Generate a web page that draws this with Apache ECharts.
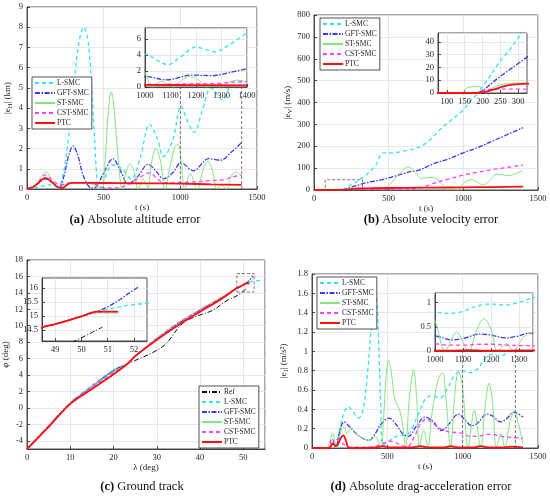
<!DOCTYPE html>
<html>
<head>
<meta charset="utf-8">
<title>Tracking errors</title>
<script src="https://cdn.jsdelivr.net/npm/echarts@6/dist/echarts.min.js"></script>
<style>
  * { margin: 0; padding: 0; }
  #main { width: 550px; height: 500px; }
</style>
</head>
<body>
<div id="main"></div>
<script>
// ---------- data ----------
var ctrlNames = ['L-SMC', 'GFT-SMC', 'ST-SMC', 'CST-SMC', 'PTC'];

// (a) altitude error |e_H| (km) vs t (s)
var aL = [[0,0],[50,0.05],[100,0.15],[150,0.2],[200,0.1],[230,0.5],[270,2.5],[310,5.5],[340,7.3],[370,8.0],[400,7.2],[430,4],[455,0.6],[470,0],[500,0.4],[560,1.2],[620,1.0],[680,0.5],[740,1.6],[800,3.2],[850,2.5],[890,1.6],[950,2.4],[1005,4.1],[1050,3.3],[1090,2.8],[1140,3.8],[1200,5.0],[1240,4.7],[1275,4.4],[1330,5.3],[1400,6.8]];
var aG = [[0,0],[60,0.2],[120,0.5],[170,0.3],[210,0.05],[240,0.6],[270,1.6],[300,2.13],[330,1.7],[370,0.6],[420,0.05],[450,0.1],[500,0.8],[560,1.5],[610,0.9],[660,0.25],[720,0.6],[790,1.22],[840,0.9],[890,0.5],[950,0.8],[1005,1.3],[1085,0.9],[1185,1.5],[1260,1.42],[1330,1.8],[1400,2.3]];
var aS = [[0,0],[60,0.2],[100,0.7],[125,0.85],[150,0.6],[190,0.1],[215,0],[240,0.2],[280,0.3],[350,0.3],[420,0.25],[470,0.1],[490,0],[510,1.5],[530,3.8],[550,4.8],[570,3.8],[595,1.5],[620,0],[645,0.8],[672,1.25],[700,0.8],[725,0],[755,0.5],[780,0.2],[790,0],[812,1.3],[840,2.0],[870,1.4],[900,0],[930,1.0],[965,2.1],[985,2.2],[1000,1.8],[1030,0],[1065,0.75],[1110,0],[1150,1.0],[1180,1.38],[1210,0.9],[1240,0],[1270,0.2],[1300,0],[1330,0.6],[1360,0.85],[1385,0.75],[1400,0.6]];
var aC = [[0,0],[60,0.2],[120,0.7],[170,0.4],[220,0.2],[260,0.28],[300,0.32],[400,0.3],[460,0.2],[500,0.05],[560,0.05],[620,0.1],[680,0.3],[740,0.6],[800,0.8],[850,0.5],[900,0.3],[960,0.3],[1000,0.32],[1100,0.35],[1200,0.42],[1280,0.45],[1340,0.6],[1400,0.68]];
var aP = [[0,0],[40,0.1],[80,0.35],[120,0.55],[160,0.35],[200,0.1],[230,0.05],[260,0.2],[290,0.3],[400,0.3],[600,0.29],[800,0.28],[1000,0.27],[1200,0.23],[1400,0.2]];

// (b) velocity error |e_V| (m/s) vs t (s)
var bL = [[0,0],[180,0],[200,5],[250,25],[300,43],[350,70],[390,95],[420,120],[445,160],[460,170],[520,170],[600,178],[700,195],[760,220],[850,280],[920,320],[990,360],[1060,415],[1120,457],[1190,520],[1250,578],[1320,650],[1400,735]];
var bG = [[0,0],[180,0],[200,2],[250,13],[300,23],[350,33],[400,40],[450,46],[500,55],[600,75],[650,85],[700,90],[800,120],[900,142],[1000,170],[1100,195],[1200,225],[1300,255],[1400,285]];
var bS = [[0,0],[140,0],[160,4.5],[190,5],[210,1],[230,4],[260,7],[300,7.8],[400,8],[470,8],[520,35],[580,80],[630,105],[680,80],[720,53],[790,58],[840,40],[880,5],[900,0],[930,5],[960,0],[1000,30],[1050,47],[1090,38],[1130,23],[1180,45],[1220,72],[1260,70],[1300,66],[1350,75],[1400,90]];
var bC = [[0,0],[180,0],[200,1.5],[230,3],[300,3],[400,3.5],[500,4],[600,5],[700,8],[800,30],[900,50],[1000,68],[1100,82],[1200,94],[1300,104],[1400,114]];
var bP = [[0,0],[190,0],[210,1],[240,3.5],[270,6],[300,7],[350,7.5],[400,8],[600,10],[800,11],[1000,12],[1200,13.5],[1400,15]];

// (c) ground track phi (deg) vs lambda (deg)
var cRef = [[0,-5],[5,-2.3],[10,0.5],[15,2.6],[20,4.6],[23.3,5.4],[26,6.0],[30,7.0],[32.3,7.9],[34.6,9.5],[36,10.3],[38,10.9],[40,11.3],[43,11.9],[46,13.0],[49,13.8],[50.8,14.6]];
var cL = [[0,-5],[5,-2.2],[10,0.6],[15,2.7],[20,4.6],[23.3,5.4],[25,6.3],[30,8.5],[35,10.4],[40,11.9],[45,13.4],[48.5,14.6],[49,14.7],[50,14.98],[50.6,15.15],[51,15.23],[52,15.4],[53,15.47],[54.2,15.5]];
var cG = [[0,-5],[5,-2.2],[10,0.6],[15,2.6],[20,4.5],[23.3,5.4],[25,6.3],[30,8.4],[35,10.3],[40,11.9],[45,13.4],[48.5,14.6],[49,14.7],[50,14.98],[50.5,15.12],[51,15.32],[51.5,15.6],[51.8,15.8],[52.2,16.05]];
var cS = [[0,-5],[5,-2.2],[10,0.55],[15,2.6],[20,4.4],[23.3,5.4],[25,6.3],[30,8.5],[35,10.4],[40,12.0],[45,13.5],[48.5,14.6],[49,14.7],[50,14.98],[50.6,15.1],[51.4,15.1]];
var cC = [[0,-5],[5,-2.2],[10,0.55],[15,2.5],[20,4.3],[23.3,5.4],[25,6.3],[30,8.4],[35,10.3],[40,11.9],[45,13.4],[48.5,14.6],[49,14.7],[50,14.98],[50.6,15.13],[51.4,15.14]];
var cP = [[0,-5],[5,-2.3],[10,0.5],[15,2.3],[20,4.1],[23.3,5.4],[25,6.3],[30,8.3],[35,10.1],[40,11.7],[45,13.3],[48.5,14.58],[49,14.7],[50,14.98],[50.6,15.15],[51.4,15.15]];

// (d) drag-acceleration error (m/s^2) vs t (s)
var dL = [[0,0],[100,0],[120,0.03],[140,0.05],[160,0.02],[180,0.15],[200,0.3],[240,0.43],[270,0.38],[310,0.31],[340,0.4],[370,0.8],[400,1.35],[425,1.6],[440,1.2],[455,0.5],[470,0.03],[500,0.06],[560,0.12],[640,0.15],[700,0.33],[750,0.5],[790,0.54],[850,0.52],[900,0.62],[950,0.76],[1000,0.8],[1050,0.78],[1100,0.82],[1150,0.93],[1200,0.97],[1250,0.95],[1350,1.1],[1400,1.15]];
var dG = [[0,0],[110,0],[140,0.05],[160,0.02],[180,0.15],[212,0.27],[250,0.22],[300,0.14],[350,0.09],[380,0.08],[420,0.15],[460,0.25],[510,0.31],[560,0.24],[600,0.15],[640,0.12],[690,0.22],[750,0.32],[800,0.28],[860,0.18],[910,0.25],[970,0.35],[1010,0.3],[1060,0.23],[1100,0.26],[1160,0.35],[1200,0.33],[1250,0.27],[1290,0.3],[1340,0.37],[1400,0.32]];
var dS = [[0,0],[100,0],[120,0.08],[138,0.15],[155,0.05],[165,0],[180,0.1],[200,0.21],[215,0.22],[230,0.15],[260,0.2],[300,0.14],[350,0.09],[380,0.08],[420,0.12],[445,0.05],[460,0],[475,0.3],[490,0.7],[508,0.91],[525,0.8],[550,0.5],[580,0.4],[600,0.25],[622,0],[645,0.5],[675,0.81],[695,0.5],[712,0],[728,0.12],[742,0.18],[756,0.1],[768,0],[800,0.4],[840,0.72],[866,0.78],[890,0.5],[920,0],[945,0.5],[972,0.8],[1000,0.62],[1036,0],[1077,0.39],[1120,0],[1150,0.45],[1175,0.67],[1200,0.45],[1223,0],[1255,0.15],[1280,0],[1315,0.28],[1345,0.38],[1370,0.25],[1400,0.04]];
var dC = [[0,0],[110,0],[130,0.1],[150,0.06],[170,0.09],[200,0.05],[250,0.01],[400,0.01],[460,0.04],[520,0.07],[580,0.04],[630,0.01],[680,0.12],[720,0.25],[760,0.3],[800,0.26],[850,0.2],[900,0.17],[960,0.16],[1000,0.15],[1050,0.12],[1100,0.12],[1160,0.14],[1200,0.14],[1260,0.12],[1320,0.11],[1400,0.1]];
var dP = [[0,0],[110,0],[130,0.03],[140,0.05],[155,0.02],[170,0.03],[190,0.1],[208,0.13],[225,0.08],[245,0],[300,0],[420,0.005],[470,0.02],[520,0.005],[650,0.005],[720,0.02],[780,0.005],[870,0.005],[920,0.02],[980,0.005],[1060,0.005],[1120,0.02],[1180,0.005],[1260,0.005],[1320,0.015],[1400,0.005]];

// custom tick labels
var bInsetXTicks = [100, 150, 200, 250, 300];
var cYTicks = [-4, -2, 0, 2, 4, 6, 8, 10, 12, 14, 16, 18];
var cInsetXTicks = [49, 50, 51, 52];
var cInsetYTicks = [14.5, 15, 15.5, 16];

var captions = [
  ['a', 'Absolute altitude error'],
  ['b', 'Absolute velocity error'],
  ['c', 'Ground track'],
  ['d', 'Absolute drag-acceleration error']
];

// ---------- layout (px: left, top, width, height) ----------
var boxes = [
  [27, 7, 230, 182],   [145, 28, 102, 59],   // a, a inset
  [314, 15, 224, 175], [438, 33, 89, 60],    // b, b inset
  [27, 260, 238, 189], [42, 278, 105, 63],   // c, c inset
  [312, 274, 226, 174], [435, 293, 98, 58]   // d, d inset
];
// axis ranges [xmin, xmax, xint, ymin, ymax, yint]
var ranges = [
  [0, 1500, 500, 0, 9, 1],
  [1000, 1400, 100, 0, 7.4, 2],
  [0, 1500, 500, 0, 800, 100],
  [75, 325, null, 0, 47, 10],
  [0, 55, 10, -5, 18, null],
  [48.5, 52.5, null, 14.1, 16.35, null],
  [0, 1500, 500, 0, 1.8, 0.2],
  [1000, 1350, 100, 0, 1.2, 0.5]
];

var styles = {
  'Ref':     { color: '#111111', type: [5, 2, 1, 2], width: 1 },
  'L-SMC':   { color: '#35e3ee', type: [4, 3], width: 1.3 },
  'GFT-SMC': { color: '#3a3af2', type: [5, 1.5, 1.5, 1.5], width: 1.3 },
  'ST-SMC':  { color: '#80e680', type: 'solid', width: 1 },
  'CST-SMC': { color: '#ff40ff', type: [4, 3], width: 1.3 },
  'PTC':     { color: '#ff1010', type: 'solid', width: 1.8 }
};

var FONT = 'Liberation Serif';
var INK = '#262626';

var grids = [], xAxes = [], yAxes = [], series = [];

boxes.forEach(function (b, i) {
  var inset = i % 2 === 1;
  grids.push({
    left: b[0], top: b[1], width: b[2], height: b[3],
    show: true, borderColor: INK, borderWidth: 0.8,
    backgroundColor: '#ffffff',
    zlevel: inset ? 1 : 0,
    outerBoundsMode: 'none'
  });
});

function plainNum(v) {
  return String(Math.round(v * 1000) / 1000);
}

function makeAxis(i, dim) {
  var r = ranges[i];
  var min = dim === 'x' ? r[0] : r[3];
  var max = dim === 'x' ? r[1] : r[4];
  var step = dim === 'x' ? r[2] : r[5];
  var ax = {
    type: 'value', gridIndex: i, min: min, max: max,
    zlevel: i % 2 === 1 ? 1 : 0,
    axisLine: { show: true, onZero: false, lineStyle: { color: INK, width: 0.8 } },
    axisTick: { show: true, inside: true, length: 3, lineStyle: { color: INK, width: 0.8 } },
    axisLabel: { color: INK, fontSize: 8.5, fontFamily: FONT, margin: 4, showMinLabel: true, formatter: plainNum },
    splitLine: { show: true, lineStyle: { color: '#e2e2e2', width: 0.8 } }
  };
  if (step !== null) {
    ax.interval = step;
    if (Math.abs(max / step - Math.round(max / step)) > 1e-6) ax.axisLabel.showMaxLabel = false;
  }
  return ax;
}

for (var i = 0; i < 8; i++) {
  xAxes.push(makeAxis(i, 'x'));
  yAxes.push(makeAxis(i, 'y'));
}

// custom ticks where the limits are not on the tick grid
function setCustom(ax, vals) {
  delete ax.interval;
  ax.axisLabel.customValues = vals;
  ax.axisTick.customValues = vals;
}
setCustom(xAxes[3], bInsetXTicks);
setCustom(yAxes[4], cYTicks);
setCustom(xAxes[5], cInsetXTicks);
setCustom(yAxes[5], cInsetYTicks);

// axis names
var nameStyle = { fontSize: 9, fontFamily: FONT, color: INK,
  rich: { s: { fontSize: 6.5, fontFamily: FONT, color: INK, padding: [5, 0, 0, 0] } } };
[0, 2, 6].forEach(function (g) {
  xAxes[g].name = 't (s)';
});
xAxes[4].name = '\u03bb (deg)';
yAxes[0].name = '|e{s|H}| (km)';
yAxes[2].name = '|e{s|V}| (m/s)';
yAxes[4].name = '\u03c6 (deg)';
yAxes[6].name = '|e{s|1}| (m/s\u00b2)';
[0, 2, 4, 6].forEach(function (g) {
  xAxes[g].nameLocation = 'middle'; xAxes[g].nameGap = 13; xAxes[g].nameTextStyle = nameStyle;
  yAxes[g].nameLocation = 'middle'; yAxes[g].nameTextStyle = nameStyle;
});
yAxes[0].nameGap = 13;
yAxes[2].nameGap = 20;
yAxes[4].nameGap = 13;
yAxes[6].nameGap = 22;

function addLine(name, data, g) {
  var s = styles[name];
  series.push({
    type: 'line', name: name, data: data,
    xAxisIndex: g, yAxisIndex: g, zlevel: g % 2 === 1 ? 1 : 0,
    symbol: 'none', showSymbol: false, smooth: 0.35,
    itemStyle: { color: s.color },
    lineStyle: { color: s.color, type: s.type, width: s.width },
    animation: false
  });
}

var panelData = [
  [aL, aG, aS, aC, aP],
  [bL, bG, bS, bC, bP],
  [cL, cG, cS, cC, cP],
  [dL, dG, dS, dC, dP]
];

// Ref track first in (c)
addLine('Ref', cRef, 4);
addLine('Ref', cRef, 5);
panelData.forEach(function (set, p) {
  set.forEach(function (d, k) {
    addLine(ctrlNames[k], d, 2 * p);
    addLine(ctrlNames[k], d, 2 * p + 1);
  });
});

// zoom markers in the main plots, built from the inset limits
function guide(g, pts) {
  series.push({
    type: 'line', data: pts, xAxisIndex: g, yAxisIndex: g, zlevel: 0, z: 5,
    symbol: 'none', silent: true, animation: false,
    lineStyle: { color: '#555555', type: [3, 2], width: 0.8 }
  });
}
function insetBottomValue(mainIdx) {
  var m = boxes[mainIdx], ins = boxes[mainIdx + 1], r = ranges[mainIdx];
  var frac = (m[1] + m[3] - (ins[1] + ins[3])) / m[3];
  return r[3] + frac * (r[4] - r[3]);
}
[[0, 1000], [0, 1400], [6, 1000], [6, 1350]].forEach(function (v) {
  guide(v[0], [[v[1], ranges[v[0]][3]], [v[1], insetBottomValue(v[0])]]);
});
[2, 4].forEach(function (g) {
  var r = ranges[g + 1];
  guide(g, [[r[0], r[3]], [r[1], r[3]], [r[1], r[4]], [r[0], r[4]], [r[0], r[3]]]);
});

// legends
function legend(left, top, names) {
  return {
    data: names, orient: 'vertical', left: left, top: top,
    backgroundColor: '#ffffff', borderColor: INK, borderWidth: 0.8,
    padding: [2, 3, 2, 2], itemGap: 2, itemWidth: 20, itemHeight: 7,
    itemStyle: { opacity: 0 },
    textStyle: { fontSize: 7.5, fontFamily: FONT, color: INK, padding: [0, 0, 0, -3] },
    selectedMode: false, zlevel: 0, z: 10
  };
}
var legends = [
  legend(32, 77, ctrlNames),
  legend(320, 18, ctrlNames),
  legend(199, 386, ['Ref'].concat(ctrlNames)),
  legend(317, 277, ctrlNames)
];

// captions
var capPos = [[135, 220], [431, 220], [142, 487], [421, 487]];
var graphics = captions.map(function (c, k) {
  return {
    type: 'text', x: capPos[k][0], y: capPos[k][1],
    style: {
      text: '{b|(' + c[0] + ')} ' + c[1],
      align: 'center', verticalAlign: 'middle',
      fontSize: 12.5, fontFamily: FONT, fill: '#111',
      rich: { b: { fontSize: 12.5, fontFamily: FONT, fontWeight: 'bold' } }
    }
  };
});

var chart = echarts.init(document.getElementById('main'));
chart.setOption({
  animation: false,
  backgroundColor: '#ffffff',
  textStyle: { fontFamily: FONT },
  grid: grids,
  xAxis: xAxes,
  yAxis: yAxes,
  legend: legends,
  graphic: graphics,
  series: series
});
</script>
</body>
</html>
